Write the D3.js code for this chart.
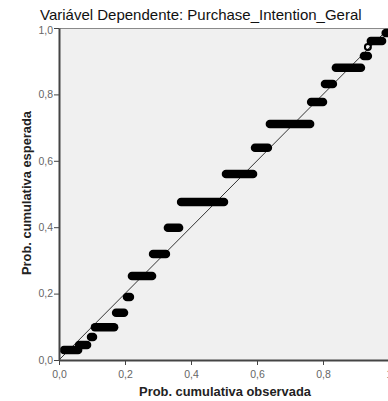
<!DOCTYPE html>
<html>
<head>
<meta charset="utf-8">
<script src="https://cdn.jsdelivr.net/npm/d3@7"></script>
<style>
  html, body { margin: 0; padding: 0; background: #fff; }
  svg { display: block; }
</style>
</head>
<body>
<svg id="chart" width="388" height="401"></svg>
<script>
// ---- data ----
const title = "Variável Dependente: Purchase_Intention_Geral";
const xTitle = "Prob. cumulativa observada";
const yTitle = "Prob. cumulativa esperada";
const tickValues = [0, 0.2, 0.4, 0.6, 0.8, 1.0];
const tickLabels = ["0,0", "0,2", "0,4", "0,6", "0,8", "1,0"];
const xTickLabels = ["0,0", "0,2", "0,4", "0,6", "0,8", "1"];

// clusters of overlapping points: expected prob, observed start, observed end
const clusterExpected = [0.030, 0.045, 0.069, 0.099, 0.142, 0.190, 0.253, 0.319, 0.398, 0.476, 0.560, 0.639, 0.711, 0.777, 0.831, 0.880, 0.916, 0.961, 0.985];
const clusterObsStart = [0.015, 0.061, 0.097, 0.109, 0.173, 0.206, 0.221, 0.285, 0.330, 0.370, 0.506, 0.594, 0.639, 0.764, 0.806, 0.839, 0.924, 0.945, 0.990];
const clusterObsEnd   = [0.058, 0.085, 0.103, 0.167, 0.197, 0.215, 0.282, 0.324, 0.364, 0.500, 0.588, 0.633, 0.761, 0.800, 0.830, 0.915, 0.936, 0.979, 0.996];
// single isolated point
const singleObs = [0.936];
const singleExp = [0.943];

// ---- layout ----
const svg = d3.select("#chart");
const mLeft = 59, mRight = 389, mTop = 28, mBottom = 360;
const x = d3.scaleLinear().domain([0, 1]).range([mLeft, mRight]);
const y = d3.scaleLinear().domain([0, 1]).range([mBottom, mTop]);

// plot background
svg.append("rect")
  .attr("x", mLeft).attr("y", mTop)
  .attr("width", mRight - mLeft).attr("height", mBottom - mTop)
  .attr("fill", "#f0f0f0");

// top border
svg.append("line")
  .attr("x1", mLeft).attr("x2", 388).attr("y1", mTop + 0.5).attr("y2", mTop + 0.5)
  .attr("stroke", "#8a8a8a").attr("stroke-width", 1);

// diagonal reference line
svg.append("line")
  .attr("x1", x(0)).attr("y1", y(0)).attr("x2", x(1)).attr("y2", y(1))
  .attr("stroke", "#333").attr("stroke-width", 1);

// clusters
const clusters = clusterExpected.map((e, i) => ({ e, s: clusterObsStart[i], t: clusterObsEnd[i] }));
svg.append("g").selectAll("line").data(clusters).join("line")
  .attr("x1", d => x(d.s)).attr("x2", d => x(d.t))
  .attr("y1", d => y(d.e)).attr("y2", d => y(d.e))
  .attr("stroke", "#000").attr("stroke-width", 8.5).attr("stroke-linecap", "round");

// single hollow point
svg.append("g").selectAll("circle").data(singleObs.map((o, i) => ({ o, e: singleExp[i] }))).join("circle")
  .attr("cx", d => x(d.o)).attr("cy", d => y(d.e)).attr("r", 3)
  .attr("fill", "none").attr("stroke", "#000").attr("stroke-width", 2);

// axes
const xAxis = d3.axisBottom(x).tickValues(tickValues).tickFormat((d, i) => xTickLabels[i]).tickSize(5).tickSizeOuter(0);
const yAxis = d3.axisLeft(y).tickValues(tickValues).tickFormat((d, i) => tickLabels[i]).tickSize(5).tickSizeOuter(0);

const gx = svg.append("g").attr("transform", `translate(0,${mBottom})`).call(xAxis);
const gy = svg.append("g").attr("transform", `translate(${mLeft},0)`).call(yAxis);

[gx, gy].forEach(g => {
  g.select(".domain").attr("stroke", "#444").attr("stroke-width", 2);
  g.selectAll(".tick line").attr("stroke", "#444").attr("stroke-width", 1);
  g.selectAll(".tick text")
    .attr("font-family", "Liberation Sans, Arial, sans-serif")
    .attr("font-size", 10.5).attr("fill", "#666");
});
gx.selectAll(".tick text").attr("dy", "0.95em");
gy.selectAll(".tick text").attr("x", -6);
gy.selectAll(".tick").filter(d => d === 1).select("text").attr("dy", "0.5em");

// title
svg.append("text")
  .attr("x", 40).attr("y", 20)
  .attr("font-family", "Liberation Sans, Arial, sans-serif")
  .attr("font-size", 15).attr("fill", "#111")
  .text(title);

// axis titles
svg.append("text")
  .attr("x", 225).attr("y", 396).attr("text-anchor", "middle")
  .attr("font-family", "Liberation Sans, Arial, sans-serif")
  .attr("font-weight", "bold").attr("font-size", 12.9).attr("fill", "#222")
  .text(xTitle);

svg.append("text")
  .attr("transform", "translate(31,193) rotate(-90)")
  .attr("text-anchor", "middle")
  .attr("font-family", "Liberation Sans, Arial, sans-serif")
  .attr("font-weight", "bold").attr("font-size", 12.9).attr("fill", "#222")
  .text(yTitle);
</script>
</body>
</html>
